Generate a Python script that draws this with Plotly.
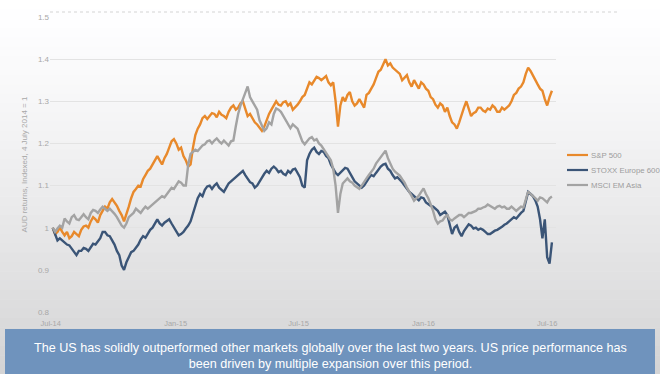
import pandas as pd
import plotly.graph_objects as go

# Twice-weekly AUD returns, indexed to 1 on 4 July 2014
start_date = "2014-07-04"
end_date = "2016-07-08"

sp500 = [
    1.00, 0.985, 0.99, 1.00, 0.99, 0.982, 0.99, 0.975, 0.98, 0.99,
    0.985, 0.98, 0.995, 1.003, 1.005, 1.00, 1.015, 1.025, 1.02, 1.012,
    1.03, 1.04, 1.05, 1.045, 1.06, 1.068, 1.06, 1.052, 1.04, 1.03,
    1.015, 1.03, 1.05, 1.07, 1.085, 1.092, 1.10, 1.098, 1.115, 1.125,
    1.135, 1.14, 1.15, 1.158, 1.17, 1.16, 1.15, 1.165, 1.175, 1.19,
    1.205, 1.21, 1.20, 1.185, 1.19, 1.17, 1.16, 1.145, 1.15, 1.19,
    1.22, 1.235, 1.245, 1.26, 1.265, 1.258, 1.265, 1.272, 1.27, 1.262,
    1.275, 1.268, 1.265, 1.26, 1.275, 1.285, 1.29, 1.28, 1.285, 1.295,
    1.30, 1.285, 1.265, 1.27, 1.26, 1.25, 1.245, 1.238, 1.23, 1.24,
    1.255, 1.27, 1.28, 1.29, 1.30, 1.292, 1.29, 1.298, 1.30, 1.29,
    1.295, 1.28, 1.285, 1.292, 1.30, 1.31, 1.315, 1.33, 1.345, 1.34,
    1.35, 1.358, 1.355, 1.35, 1.355, 1.36, 1.345, 1.338, 1.345, 1.30,
    1.24, 1.29, 1.31, 1.30, 1.315, 1.322, 1.30, 1.29, 1.295, 1.305,
    1.295, 1.285, 1.315, 1.32, 1.33, 1.34, 1.355, 1.37, 1.375, 1.39,
    1.40, 1.385, 1.39, 1.38, 1.375, 1.368, 1.365, 1.35, 1.355, 1.362,
    1.345, 1.335, 1.35, 1.34, 1.33, 1.345, 1.34, 1.33, 1.325, 1.31,
    1.305, 1.292, 1.285, 1.295, 1.29, 1.275, 1.285, 1.265, 1.25, 1.245,
    1.235, 1.25, 1.27, 1.285, 1.30, 1.28, 1.265, 1.272, 1.275, 1.285,
    1.285, 1.278, 1.275, 1.283, 1.28, 1.29, 1.285, 1.275, 1.275, 1.285,
    1.28, 1.285, 1.29, 1.30, 1.315, 1.32, 1.33, 1.335, 1.345, 1.365,
    1.38, 1.372, 1.36, 1.35, 1.34, 1.33, 1.325, 1.305, 1.29, 1.31, 1.325,
]

stoxx600 = [
    1.00, 0.985, 0.97, 0.975, 0.97, 0.965, 0.96, 0.958, 0.95, 0.94,
    0.935, 0.945, 0.945, 0.952, 0.95, 0.945, 0.955, 0.962, 0.96, 0.968,
    0.975, 0.99, 0.99, 0.982, 0.98, 0.97, 0.96, 0.945, 0.935, 0.91,
    0.90, 0.918, 0.93, 0.942, 0.945, 0.952, 0.96, 0.972, 0.98, 0.976,
    0.985, 0.995, 1.00, 1.012, 1.02, 1.01, 1.005, 1.012, 1.015, 1.02,
    1.01, 1.00, 0.99, 0.982, 0.985, 0.99, 0.998, 1.005, 1.015, 1.035,
    1.055, 1.07, 1.08, 1.075, 1.09, 1.098, 1.10, 1.092, 1.10, 1.105,
    1.095, 1.09, 1.085, 1.095, 1.105, 1.11, 1.115, 1.12, 1.125, 1.13,
    1.135, 1.125, 1.115, 1.108, 1.105, 1.095, 1.10, 1.11, 1.12, 1.128,
    1.135, 1.13, 1.14, 1.145, 1.14, 1.132, 1.135, 1.128, 1.125, 1.135,
    1.13, 1.138, 1.14, 1.13, 1.12, 1.10, 1.095, 1.16, 1.175, 1.185,
    1.19, 1.18, 1.175, 1.182, 1.18, 1.17, 1.165, 1.15, 1.14, 1.13,
    1.125, 1.13, 1.135, 1.142, 1.14, 1.128, 1.12, 1.11, 1.105, 1.098,
    1.095, 1.10, 1.11, 1.118, 1.125, 1.122, 1.13, 1.138, 1.145, 1.15,
    1.152, 1.14, 1.135, 1.125, 1.117, 1.12, 1.115, 1.108, 1.10, 1.092,
    1.085, 1.08, 1.075, 1.07, 1.065, 1.072, 1.07, 1.06, 1.055, 1.052,
    1.05, 1.045, 1.04, 1.03, 1.035, 1.038, 1.03, 1.01, 0.985, 1.00,
    1.005, 0.99, 0.98, 0.992, 1.00, 1.008, 1.005, 0.998, 1.00, 0.995,
    0.998, 0.995, 0.99, 0.985, 0.985, 0.99, 0.993, 0.995, 0.998, 1.002,
    1.007, 1.01, 1.015, 1.02, 1.025, 1.022, 1.03, 1.035, 1.04, 1.06,
    1.085, 1.08, 1.075, 1.065, 1.05, 1.02, 0.975, 1.02, 0.93, 0.915, 0.965,
]

msci_em_asia = [
    1.00, 0.99, 0.998, 1.005, 1.00, 1.022, 1.015, 1.01, 1.025, 1.03,
    1.02, 1.018, 1.025, 1.032, 1.025, 1.02, 1.035, 1.042, 1.04, 1.035,
    1.043, 1.05, 1.045, 1.04, 1.045, 1.04, 1.033, 1.025, 1.015, 1.005,
    1.00, 1.01, 1.025, 1.03, 1.035, 1.045, 1.04, 1.035, 1.043, 1.05,
    1.045, 1.05, 1.055, 1.06, 1.065, 1.07, 1.075, 1.072, 1.08, 1.09,
    1.095, 1.092, 1.10, 1.11, 1.107, 1.10, 1.10, 1.15, 1.175, 1.18,
    1.185, 1.182, 1.19, 1.195, 1.198, 1.205, 1.207, 1.20, 1.207, 1.212,
    1.205, 1.20, 1.207, 1.20, 1.195, 1.205, 1.207, 1.24, 1.27, 1.29,
    1.307, 1.32, 1.335, 1.31, 1.30, 1.29, 1.28, 1.255, 1.24, 1.23,
    1.236, 1.25, 1.245, 1.27, 1.283, 1.28, 1.275, 1.265, 1.255, 1.245,
    1.236, 1.245, 1.24, 1.235, 1.22, 1.205, 1.198, 1.205, 1.212, 1.215,
    1.207, 1.21, 1.20, 1.195, 1.186, 1.18, 1.17, 1.16, 1.14, 1.10,
    1.035, 1.08, 1.105, 1.112, 1.117, 1.11, 1.107, 1.10, 1.095, 1.092,
    1.10, 1.11, 1.117, 1.125, 1.133, 1.14, 1.152, 1.16, 1.17, 1.175,
    1.183, 1.165, 1.15, 1.14, 1.133, 1.128, 1.124, 1.115, 1.107, 1.095,
    1.086, 1.075, 1.064, 1.07, 1.076, 1.085, 1.093, 1.08, 1.07, 1.055,
    1.04, 1.02, 1.01, 1.015, 1.017, 1.025, 1.03, 1.02, 1.017, 1.022,
    1.026, 1.03, 1.03, 1.025, 1.03, 1.035, 1.035, 1.038, 1.04, 1.045,
    1.045, 1.048, 1.05, 1.055, 1.052, 1.048, 1.045, 1.05, 1.052, 1.048,
    1.05, 1.045, 1.045, 1.05, 1.045, 1.04, 1.045, 1.05, 1.048, 1.07,
    1.086, 1.08, 1.076, 1.07, 1.064, 1.072, 1.07, 1.065, 1.06, 1.07, 1.074,
]

series_names = ["S&P 500", "STOXX Europe 600", "MSCI EM Asia"]
series_colors = ["#e8892b", "#3b5577", "#a3a3a3"]

x_tick_dates = ["2014-07-01", "2015-01-01", "2015-07-01", "2016-01-01", "2016-07-01"]
x_tick_labels = ["Jul-14", "Jan-15", "Jul-15", "Jan-16", "Jul-16"]
y_tick_values = [0.8, 0.9, 1.0, 1.1, 1.2, 1.3, 1.4, 1.5]
y_tick_labels = ["0.8", "0.9", "1", "1.1", "1.2", "1.3", "1.4", "1.5"]

caption = ("The US has solidly outperformed other markets globally over the last two years. "
           "US price performance has<br>been driven by multiple expansion over this period.")

W, H = 660, 374
ML, MR, MT, MB = 50, 104, 17, 62
plot_w = W - ML - MR
plot_h = H - MT - MB


def px_to_paper_x(px):
    return (px - ML) / plot_w


def px_to_paper_y(py):
    return (H - MB - py) / plot_h


fig = go.Figure()
for name, vals, col in zip(series_names, [sp500, stoxx600, msci_em_asia], series_colors):
    dates = pd.date_range(start_date, end_date, periods=len(vals))
    fig.add_trace(go.Scatter(
        x=dates, y=vals, mode="lines", name=name,
        line=dict(color=col, width=2.4),
        showlegend=False,
    ))

shapes = []
annotations = []

# soft vertical gradient behind the chart
n_bands = 40
for k in range(n_bands):
    y0 = H * k / n_bands
    y1 = H * (k + 1) / n_bands
    t = (y0 + y1) / 2 / H
    g = int(round(255 - 44 * t ** 1.25))
    shapes.append(dict(
        type="rect", xref="paper", yref="paper", layer="below",
        x0=px_to_paper_x(0), x1=px_to_paper_x(W),
        y0=px_to_paper_y(y1 + 0.5), y1=px_to_paper_y(y0),
        line=dict(width=0), fillcolor=f"rgb({g},{g},{min(g + 1, 255)})",
    ))

# faint dotted rule above the plot
shapes.append(dict(
    type="line", xref="paper", yref="paper",
    x0=px_to_paper_x(50), x1=px_to_paper_x(618),
    y0=px_to_paper_y(12), y1=px_to_paper_y(12),
    line=dict(color="#d4d4d4", width=1, dash="dot"),
))

# legend drawn beside the plot area
legend_rows_px = [155, 170, 185]
for name, col, ry in zip(series_names, series_colors, legend_rows_px):
    shapes.append(dict(
        type="line", xref="paper", yref="paper",
        x0=px_to_paper_x(567), x1=px_to_paper_x(588),
        y0=px_to_paper_y(ry), y1=px_to_paper_y(ry),
        line=dict(color=col, width=2.2),
    ))
    annotations.append(dict(
        xref="paper", yref="paper", x=px_to_paper_x(589), y=px_to_paper_y(ry),
        xanchor="left", yanchor="middle", text=name, showarrow=False,
        font=dict(size=7.8, color="#9c9c9c"),
    ))

# caption box
shapes.append(dict(
    type="rect", xref="paper", yref="paper", layer="above",
    x0=px_to_paper_x(5), x1=px_to_paper_x(655),
    y0=px_to_paper_y(380), y1=px_to_paper_y(329),
    line=dict(width=0), fillcolor="#6f93bd",
))
annotations.append(dict(
    xref="paper", yref="paper",
    x=px_to_paper_x(W / 2), y=px_to_paper_y(355.5),
    xanchor="center", yanchor="middle",
    text=caption, showarrow=False, align="center",
    font=dict(size=12.6, color="#ffffff"),
))

fig.update_layout(
    width=W, height=H,
    margin=dict(l=ML, r=MR, t=MT, b=MB),
    paper_bgcolor="#ffffff",
    plot_bgcolor="rgba(0,0,0,0)",
    font=dict(family="Liberation Sans, Arial, sans-serif", color="#a5a5a5"),
    showlegend=False,
    xaxis=dict(
        range=["2014-06-30", "2016-07-14"],
        tickmode="array", tickvals=x_tick_dates, ticktext=x_tick_labels,
        showgrid=False, zeroline=False, showline=False,
        tickfont=dict(size=7.5, color="#a8a8a8"), ticks="",
        ticklabelstandoff=5,
    ),
    yaxis=dict(
        range=[0.8, 1.5],
        tickmode="array", tickvals=y_tick_values, ticktext=y_tick_labels,
        showgrid=True, gridcolor="#e3e3e3", gridwidth=1, zeroline=False,
        showline=False, ticks="",
        tickfont=dict(size=8, color="#a8a8a8"),
        title=dict(text="AUD returns, Indexed, 4 July 2014 = 1",
                   font=dict(size=8, color="#a8a8a8"), standoff=9),
    ),
    shapes=shapes,
    annotations=annotations,
)

fig.write_html("out.html")
